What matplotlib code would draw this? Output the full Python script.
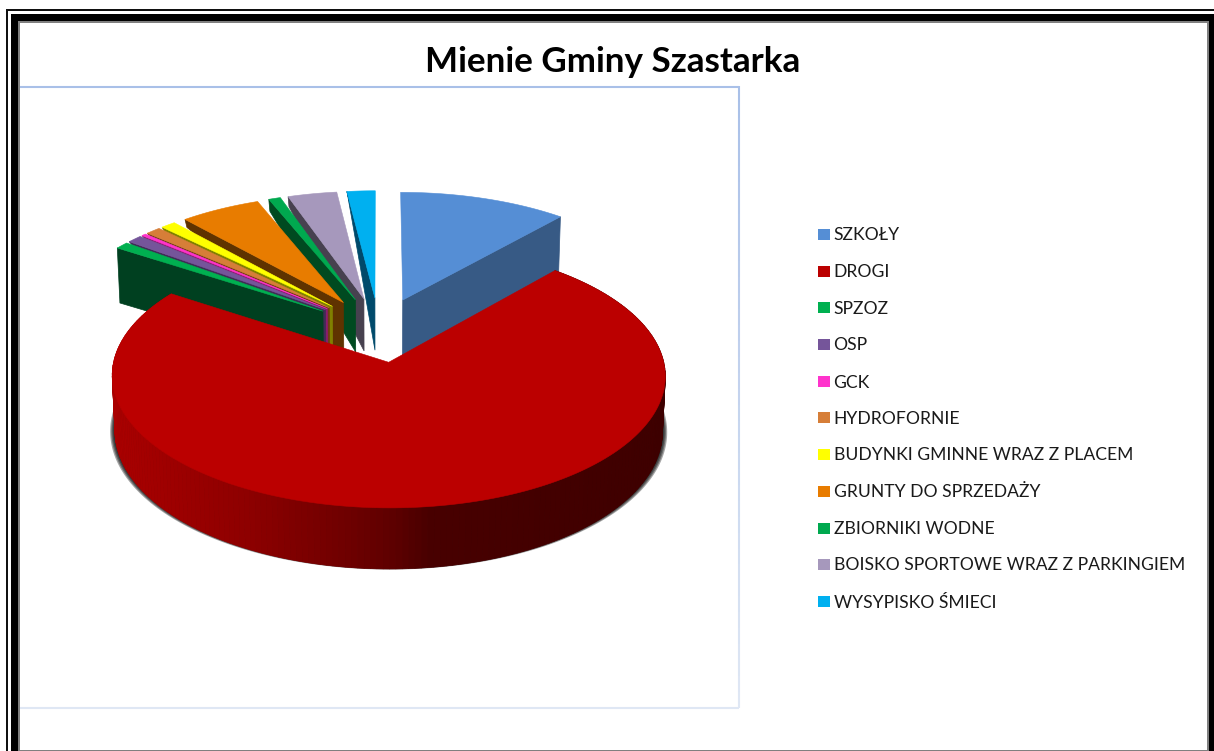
#mienie gminy - exploded 3D pie drawn by hand (matplotlib has no perspective pie)
import numpy as np
from matplotlib import pyplot as plt
from matplotlib.patches import Polygon, Rectangle
from matplotlib.colors import to_rgb

title="Mienie Gminy Szastarka"
labels=["SZKOŁY","DROGI","SPZOZ","OSP","GCK","HYDROFORNIE",
        "BUDYNKI GMINNE WRAZ Z PLACEM","GRUNTY DO SPRZEDAŻY","ZBIORNIKI WODNE",
        "BOISKO SPORTOWE WRAZ Z PARKINGIEM","WYSYPISKO ŚMIECI"]
values=[11.3,72.7,0.9,1.0,0.3,1.0,1.0,5.4,0.8,3.3,1.9]

top_colors=["#558ed5","#bb0000","#00b050","#75559a","#ff33cc","#d67e38",
            "#ffff00","#e87c00","#00a94f","#a698bc","#00b0f0"]
side_colors=["#375a85","#5c0000","#004020","#3f2d55","#8c1c70","#6e3e12",
             "#808000","#5f3300","#004a20","#47414f","#004a6b"]
#how far the cut wall hangs below the rim, it shrinks to a sliver in the original
wall_rim=[56,53,55,3,3,3,4,8,12,10,1]

#projection constants
cx,cy=379,329.5
rx,ry=268,124
persp=0.1
explode=0.26
depth=53.4

def proj(u,v):
    return cx+rx*u/(1+persp*v),cy-ry*v/(1+persp*v)

def drop(x,y,v):
    return x+0.01*(cx-x),y+depth/(1+persp*v)

def wedge(a0,a1,n=60):
    mid=(a0+a1)/2
    du,dv=explode*np.sin(mid),explode*np.cos(mid)
    t=np.linspace(a0,a1,n)
    return du,dv,du+np.sin(t),dv+np.cos(t)

def box(x0,y0,x1,y1,col,z=1):
    ax.add_patch(Rectangle((x0,y0),x1-x0,y1-y0,fc=col,ec="none",zorder=z))

plt.rcParams['font.family']=['Lato','DejaVu Sans']
fig=plt.figure(figsize=(12.14,7.51),dpi=100)
ax=fig.add_axes([0,0,1,1])
ax.set_xlim(0,1214)
ax.set_ylim(751,0)
ax.axis("off")

#page frame
box(6,9,1214,11,"#111111")
box(6,9,8,751,"#111111")
box(11,13.5,1214,751,"black")
box(18,21,1209,751,"#808080")
box(20,23,1207,750,"white")

#plot area border fades downwards
ax.plot([20,739],[86.5,86.5],color="#a9c0e8",lw=1.5,zorder=2,solid_capstyle="butt")
ys=np.linspace(86,708,40)
c0,c1=np.array(to_rgb("#a9c0e8")),np.array(to_rgb("#dfe7f4"))
for i in range(len(ys)-1):
    ax.plot([739,739],[ys[i],ys[i+1]],color=c0+(c1-c0)*i/38,lw=1.5,zorder=2,solid_capstyle="butt")
ax.plot([20,739],[708,708],color="#dfe7f4",lw=1.5,zorder=2,solid_capstyle="butt")

ax.text(612.5,62,title,ha="center",va="center",fontsize=25.2,fontweight="bold",color="black")

#legend
leg_y=[234,270.5,307,344,381,417,454,490.5,527.5,564,601]
for lab,col,y in zip(labels,top_colors,leg_y):
    ax.add_patch(Rectangle((818,y-5),12,11,fc=col,ec="none"))
    ax.text(833.5,y+1.5,lab,ha="left",va="center",fontsize=12.6,color="#1a1a1a")

#slice angles, clockwise from 12 o'clock
vals=np.array(values)
edges=np.concatenate([[0],np.cumsum(vals)])/vals.sum()*2*np.pi

#small slices back to front, the later ones in the list sit behind
for i in [0]+list(range(len(vals)-1,1,-1)):
    a0,a1=edges[i],edges[i+1]
    du,dv,u,v=wedge(a0,a1)
    ax0,ay0=proj(du,dv)
    bx0,by0=drop(ax0,ay0,dv)
    x,y=proj(u,v)
    z=3+(len(vals)-i)*0.01 if i else 3
    k=-1 if i==0 else 0  #blue shows its far cut face, the others the near one
    rx1,ry1=x[k],y[k]
    ax.add_patch(Polygon([(ax0,ay0),(bx0,by0+(3 if i==0 else 0)),(rx1+0.01*(cx-rx1),ry1+wall_rim[i]),(rx1,ry1)],
                         fc=side_colors[i],ec=side_colors[i],lw=0.5,zorder=z))
    ax.add_patch(Polygon(np.column_stack([np.r_[ax0,x],np.r_[ay0,y]]),
                         fc=top_colors[i],ec=top_colors[i],lw=0.4,zorder=z+0.001))

#big slice: shadow, rim with gradient, then top
a0,a1=edges[1],edges[2]
du,dv,u,v=wedge(a0,a1,n=220)
x,y=proj(u,v)
ax0,ay0=proj(du,dv)
bx,by=drop(x,y,v)
front=v<0.1
for s in range(4,0,-1):
    sx=389+(bx[front]-389)*(1+s*1.2/277)
    sy=by[front]+s*0.4-1
    ax.add_patch(Polygon(np.column_stack([sx,sy]),fc="black",ec="none",alpha=0.35,zorder=4))

stop_x=[113,245,345,390,430,667]
stop_c=np.array([to_rgb(c) for c in ["#aa0000","#8e0000","#6f0000","#5f0000","#480000","#3e0000"]])
for i in range(len(x)-1):
    xm=(x[i]+x[i+1])/2
    col=[np.interp(xm,stop_x,stop_c[:,j]) for j in range(3)]
    ax.add_patch(Polygon([(x[i],y[i]),(x[i+1],y[i+1]),(bx[i+1],by[i+1]),(bx[i],by[i])],
                         fc=col,ec=col,lw=0.5,zorder=5))
ax.add_patch(Polygon(np.column_stack([np.r_[ax0,x],np.r_[ay0,y]]),
                     fc=top_colors[1],ec=top_colors[1],lw=0.4,zorder=6))

fig.savefig("out.png",dpi=100)
